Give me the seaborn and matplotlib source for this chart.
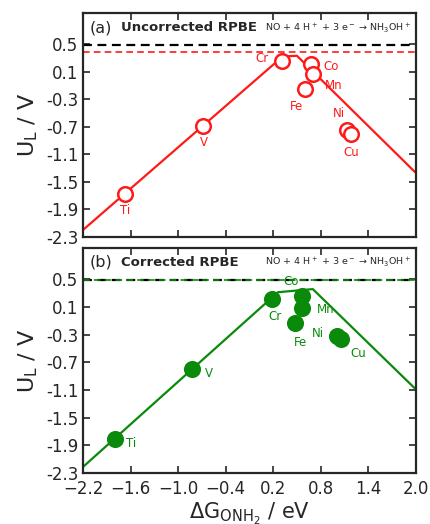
import numpy as np
import pandas as pd
import matplotlib
matplotlib.use("Agg")
import matplotlib.pyplot as plt
import seaborn as sns

metals = ["Ti", "V", "Cr", "Co", "Mn", "Fe", "Ni", "Cu"]

# (a) uncorrected RPBE
dg_unc = [-1.67, -0.68, 0.31, 0.68, 0.70, 0.60, 1.13, 1.18]
ul_unc = [-1.68, -0.69, 0.25, 0.21, 0.06, -0.15, -0.75, -0.81]
volcano_x_unc = [-2.2, 0.32, 0.50, 2.0]
volcano_y_unc = [-2.2, 0.32, 0.33, -1.37]
eq_line = 0.49
ul_max_unc = 0.38

# (b) corrected RPBE
dg_cor = [-1.80, -0.82, 0.19, 0.56, 0.565, 0.47, 1.01, 1.05]
ul_cor = [-1.81, -0.80, 0.215, 0.25, 0.08, -0.14, -0.32, -0.37]
volcano_x_cor = [-2.2, 0.26, 0.70, 2.0]
volcano_y_cor = [-2.21, 0.31, 0.355, -1.09]
ul_max_cor = 0.48

# label offsets (points) for each metal
offs_unc = {"Ti": (0, -12), "V": (0, -12), "Cr": (-14, 2), "Co": (14, -2),
            "Mn": (15, -8), "Fe": (-6, -13), "Ni": (-6, 12), "Cu": (0, -13)}
offs_cor = {"Ti": (12, -3), "V": (12, -3), "Cr": (2, -13), "Co": (-8, 11),
            "Mn": (17, -1), "Fe": (4, -14), "Ni": (-14, 2), "Cu": (13, -10)}

sns.set_style("ticks")
plt.rcParams["font.family"] = ["DejaVu Sans"]
plt.rcParams["mathtext.default"] = "regular"

fig = plt.figure(figsize=(4.3, 5.24), dpi=100)
ax1 = fig.add_axes([0.193, 0.548, 0.774, 0.427])
ax2 = fig.add_axes([0.193, 0.097, 0.774, 0.43])

red = "#ff1a1a"
green = "#0a8a0a"
yticks = [0.5, 0.1, -0.3, -0.7, -1.1, -1.5, -1.9, -2.3]
xticks = [-2.2, -1.6, -1.0, -0.4, 0.2, 0.8, 1.4, 2.0]


def panel(ax, dg, ul, vx, vy, ul_max, color, offs, filled, tag, title):
    vol = pd.DataFrame({"x": vx, "y": vy})
    sns.lineplot(data=vol, x="x", y="y", ax=ax, color=color, lw=1.6,
                 sort=False, estimator=None)
    ax.axhline(eq_line, color="black", ls=(0, (4, 2.5)), lw=1.6, zorder=2)
    ax.axhline(ul_max, color=color, ls=(0, (4, 2.5)), lw=1.2, zorder=2)
    df = pd.DataFrame({"dg": dg, "ul": ul, "metal": metals})
    sns.scatterplot(data=df, x="dg", y="ul", ax=ax, s=110, zorder=5,
                    color=(color if filled else "white"), edgecolor=color,
                    linewidth=1.8, legend=False)
    for m, x, y in zip(metals, dg, ul):
        ax.annotate(m, (x, y), xytext=offs[m], textcoords="offset points",
                    ha="center", va="center", color=color, fontsize=8.5)
    ax.set_xlim(-2.2, 2.0)
    ax.set_ylim(-2.3, 0.95)
    ax.set_yticks(yticks)
    ax.set_yticklabels([f"{v:.1f}" for v in yticks])
    ax.set_xticks(xticks)
    ax.tick_params(direction="in", top=True, right=True, length=5, width=1.2,
                   labelsize=12)
    ax.tick_params(axis="x", pad=5)
    for sp in ax.spines.values():
        sp.set_linewidth(1.6)
    ax.set_ylabel("U$_L$ / V", fontsize=16, labelpad=4)
    ax.text(0.02, 0.935, tag, transform=ax.transAxes, fontsize=11.5, va="center")
    ax.text(0.115, 0.935, title, transform=ax.transAxes, fontsize=9.5,
            fontweight="bold", va="center")
    ax.text(0.985, 0.935, "NO + 4 H$^+$ + 3 e$^-$ → NH$_3$OH$^+$",
            transform=ax.transAxes, fontsize=6.8, ha="right", va="center")


panel(ax1, dg_unc, ul_unc, volcano_x_unc, volcano_y_unc, ul_max_unc, red,
      offs_unc, False, "(a)", "Uncorrected RPBE")
panel(ax2, dg_cor, ul_cor, volcano_x_cor, volcano_y_cor, ul_max_cor, green,
      offs_cor, True, "(b)", "Corrected RPBE")

ax1.set_xlabel("")
ax1.set_xticklabels([])
ax2.set_xticklabels([f"{v:.1f}".replace("-", "\u2212") for v in xticks])
ax2.set_xlabel("ΔG$_{ONH_2}$ / eV", fontsize=15, labelpad=2)

fig.savefig("out.png", dpi=100)
